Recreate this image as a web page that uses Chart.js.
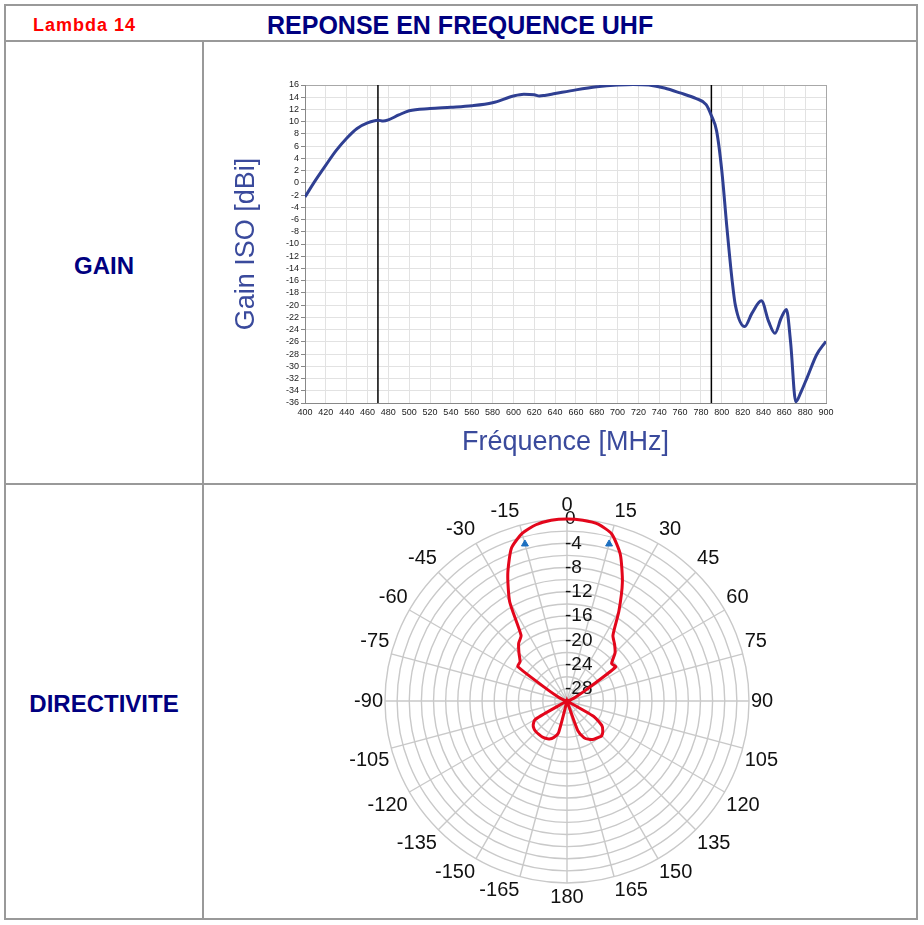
<!DOCTYPE html>
<html>
<head>
<meta charset="utf-8">
<title>Reponse en frequence UHF</title>
<script src="https://cdn.jsdelivr.net/npm/chart.js@4.4.1/dist/chart.umd.min.js"></script>
<style>
    body { margin: 0; background: #fff; font-family: "Liberation Sans", Arial, sans-serif; }
    #page { position: relative; width: 924px; height: 925px; overflow: hidden; }
    .frame { position: absolute; left: 4px; top: 4px; width: 914px; height: 916px; border: 2px solid #999; box-sizing: border-box; }
    .hline { position: absolute; height: 2px; background: #999; }
    .vline { position: absolute; width: 2px; background: #999; }
    .label { position: absolute; white-space: nowrap; font-weight: bold; }
    .rowname { position: absolute; left: 6px; width: 196px; text-align: center; color: #000080; font-weight: bold; font-size: 24px; line-height: 28px; }
    #gainBox { position: absolute; left: 215px; top: 60px; width: 630px; height: 410px; }
    #polarBox { position: absolute; left: 334px; top: 493px; width: 460px; height: 416px; }
</style>
</head>
<body>
<div id="page">
    <div class="frame"></div>
    <div class="hline" style="left:4px; top:40px; width:914px;"></div>
    <div class="hline" style="left:4px; top:483px; width:914px;"></div>
    <div class="vline" style="left:202px; top:40px; height:880px;"></div>

    <div class="label" style="left:33px; top:15px; font-size:18px; line-height:20px; letter-spacing:1px; color:#ff0000;">Lambda 14</div>
    <div class="label" style="left:267px; top:11px; font-size:25px; line-height:28px; color:#000080;">REPONSE EN FREQUENCE UHF</div>

    <div class="rowname" style="top:252px;">GAIN</div>
    <div class="rowname" style="top:690px;">DIRECTIVITE</div>

    <div id="gainBox"><canvas id="gainChart"></canvas></div>
    <div id="polarBox"><canvas id="polarChart"></canvas></div>
</div>

<script>
// Gain curve (MHz / dBi)
const freqs = [400, 410, 420, 430, 440, 450, 460, 470, 475, 480, 490, 500, 520, 540, 560, 580,
               600, 610, 620, 625, 630, 640, 660, 680, 700, 715, 730, 745, 760, 775, 785, 790,
               795, 800, 805, 810, 813, 822, 829, 838, 845, 851, 857, 862, 866, 871, 876, 882, 891, 900];
const gains = [-2.3, 0.4, 2.9, 5.3, 7.3, 8.9, 9.8, 10.25, 10.1, 10.3, 11.1, 11.8, 12.15, 12.35, 12.6, 13.1,
               14.2, 14.5, 14.4, 14.2, 14.3, 14.6, 15.2, 15.7, 16.0, 16.1, 16.0, 15.5, 14.7, 13.8, 12.8, 11.0,
               8.5, 2.0, -7.5, -16.1, -20.0, -23.5, -21.3, -19.3, -22.7, -24.6, -22.1, -20.7, -26.0, -35.8, -34.2, -31.8, -28.1, -25.9];
// band limits (vertical black lines)
const bandEdges = [470, 790];

// Directivity pattern (deg / dB), clockwise from 0
const angleLabels = [0, 5, 10, 15, 20, 25, 30, 35, 40, 45, 50, 55, 60, 65, 70, 75, 80, 85, 90,
                     95, 100, 105, 110, 115, 120, 125, 130, 135, 140, 145, 150, 155, 160, 165, 170, 175, 180,
                     -175, -170, -165, -160, -155, -150, -145, -140, -135, -130, -125, -120, -115, -110, -105, -100,
                     -95, -90, -85, -80, -75, -70, -65, -60, -55, -50, -45, -40, -35, -30, -25, -20, -15, -10, -5];
const directivity = [0, -0.1, -0.4, -1.5, -4.3, -8.4, -12.9, -16.8, -17.8, -18.8, -20.4, -20.2, -26.5, -28.4, -29.3, -29.7, -30, -30, -30,
                     -30, -30, -30, -30, -30, -24.9, -23.0, -22.3, -21.9, -22.1, -22.3, -22.7, -23.3, -24.8, -30, -30, -30, -30,
                     -30, -30, -24.6, -23.6, -23.1, -22.9, -22.8, -22.8, -22.8, -22.9, -23.2, -24.0, -30, -30, -30, -30,
                     -30, -30, -30, -30, -29.7, -29.3, -28.4, -26.5, -20.1, -19.9, -18.8, -17.6, -16.8, -11.1, -6.9, -3.2, -1.4, -0.5, -0.1];
const ringLabels = [0, -4, -8, -12, -16, -20, -24, -28];
// -3 dB markers
const beamAngles = [15, -15];
const beamGains = [-3.2, -3.2];

const FONT = '"Liberation Sans", Arial, Helvetica, sans-serif';

document.addEventListener('DOMContentLoaded', function() {
    initGainChart();
    initPolarChart();
});

// Gain vs frequency
function initGainChart() {
    const ctx = document.getElementById('gainChart').getContext('2d');

    const edgeSets = bandEdges.map(function(f) {
        return {
            data: [{x: f, y: -36}, {x: f, y: 16}],
            borderColor: '#000',
            borderWidth: 1.5,
            pointRadius: 0
        };
    });

    new Chart(ctx, {
        type: 'line',
        data: {
            datasets: [{
                data: freqs.map(function(f, i) { return {x: f, y: gains[i]}; }),
                borderColor: '#2f3f92',
                borderWidth: 3,
                pointRadius: 0,
                cubicInterpolationMode: 'monotone'
            }].concat(edgeSets)
        },
        options: {
            responsive: true,
            maintainAspectRatio: false,
            animation: false,
            layout: { padding: { top: 25, right: 19, left: 0, bottom: 0 } },
            plugins: { legend: { display: false }, tooltip: { enabled: false } },
            scales: {
                x: {
                    type: 'linear',
                    min: 400,
                    max: 900,
                    afterFit: function(scale) { scale.height = 67; },
                    ticks: { stepSize: 20, autoSkip: false, maxRotation: 0, padding: 4, color: '#222', font: { size: 9, family: FONT } },
                    grid: {
                        drawTicks: false,
                        color: function(c) { return c.tick && c.tick.value === 900 ? '#a8a8a8' : '#e2e2e2'; }
                    },
                    border: { color: '#888' },
                    title: { display: true, text: 'Fréquence [MHz]', color: '#3a4a9c', font: { size: 27, family: FONT }, padding: { top: 0, bottom: 11 } }
                },
                y: {
                    min: -36,
                    max: 16,
                    afterFit: function(scale) { scale.width = 90; },
                    ticks: { stepSize: 2, autoSkip: false, padding: 2, color: '#222', font: { size: 9, family: FONT } },
                    grid: {
                        tickLength: 4,
                        tickColor: '#888',
                        color: function(c) { return c.tick && c.tick.value === 16 ? '#a8a8a8' : '#e2e2e2'; }
                    },
                    border: { color: '#888' },
                    title: { display: true, text: 'Gain ISO [dBi]', color: '#3a4a9c', font: { size: 27, family: FONT }, padding: { top: 15, bottom: 0 } }
                }
            }
        }
    });
}

// ring values written left-aligned up the 0 deg spoke, under the curve
const ringLabelPlugin = {
    id: 'ringLabels',
    beforeDatasetsDraw: function(chart) {
        const r = chart.scales.r;
        const ctx = chart.ctx;
        ctx.save();
        ctx.font = '19px ' + FONT;
        ctx.fillStyle = '#111';
        ctx.textAlign = 'left';
        ctx.textBaseline = 'middle';
        ringLabels.forEach(function(v) {
            ctx.fillText(String(v), r.xCenter - 2, r.yCenter - r.getDistanceFromCenterForValue(v));
        });
        ctx.restore();
    }
};

// Directivity polar plot
function initPolarChart() {
    const ctx = document.getElementById('polarChart').getContext('2d');

    const markerData = angleLabels.map(function(a) {
        const k = beamAngles.indexOf(a);
        return k >= 0 ? beamGains[k] : null;
    });

    new Chart(ctx, {
        type: 'radar',
        data: {
            labels: angleLabels,
            datasets: [
                {
                    data: directivity,
                    borderColor: '#e3061b',
                    borderWidth: 3,
                    pointRadius: 0,
                    fill: false,
                    tension: 0.2
                },
                {
                    data: markerData,
                    showLine: false,
                    pointStyle: 'triangle',
                    pointRadius: 4,
                    pointBackgroundColor: '#1c6fc0',
                    pointBorderColor: '#1c6fc0'
                }
            ]
        },
        options: {
            responsive: true,
            maintainAspectRatio: false,
            animation: false,
            plugins: { legend: { display: false }, tooltip: { enabled: false } },
            scales: {
                r: {
                    min: -30,
                    max: 0,
                    ticks: { stepSize: 2, display: false },
                    grid: { circular: true, color: '#c9c9c9', lineWidth: 1.4 },
                    angleLines: {
                        color: '#c9c9c9',
                        lineWidth: function(c) { return angleLabels[c.index] % 15 === 0 ? 1.4 : 0; }
                    },
                    pointLabels: {
                        padding: 2,
                        color: '#111',
                        font: { size: 20, family: FONT },
                        callback: function(label) { return label % 15 === 0 ? String(label) : ''; }
                    }
                }
            }
        },
        plugins: [ringLabelPlugin]
    });
}
</script>
</body>
</html>
